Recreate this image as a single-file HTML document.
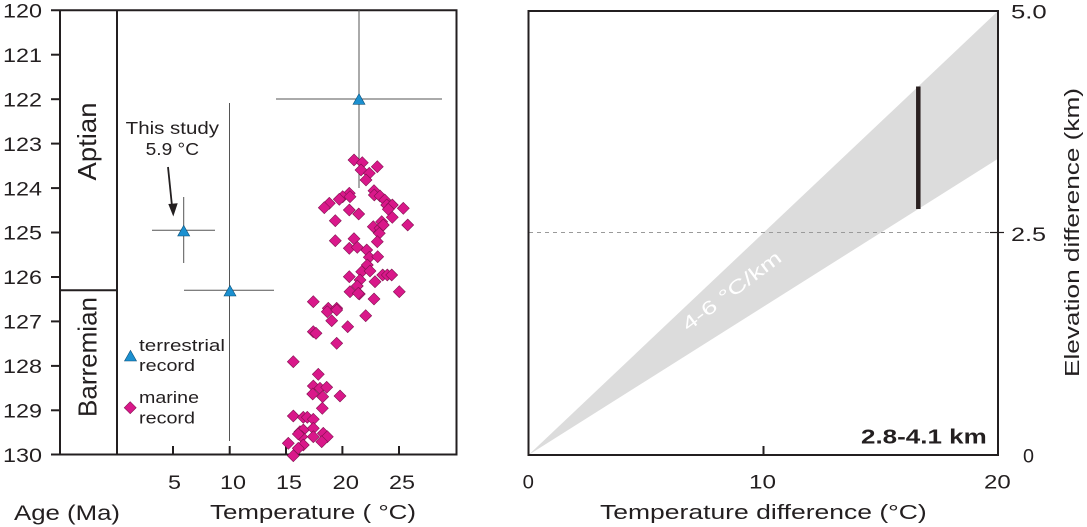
<!DOCTYPE html>
<html><head><meta charset="utf-8"><style>
html,body{margin:0;padding:0;background:#fff;}
svg{display:block;}
text{font-family:"Liberation Sans",Arial,sans-serif;fill:#231f20;}
</style></head><body>
<svg width="1087" height="527" viewBox="0 0 1087 527" xmlns="http://www.w3.org/2000/svg">
<defs>
<path id="d" d="M0,-6 L6,0 L0,6 L-6,0Z" fill="#d9188a" stroke="#80104f" stroke-width="0.6"/>
<path id="t" d="M0,-5.3 L6,5.3 L-6,5.3Z" fill="#1b90d0" stroke="#0b4f78" stroke-width="0.6"/>
</defs>

<!-- LEFT PANEL -->
<g stroke="#231f20" stroke-width="2" fill="none">
<line x1="51" y1="10.3" x2="457.5" y2="10.3"/>
<line x1="51" y1="454.5" x2="457.5" y2="454.5"/>
<line x1="60" y1="10" x2="60" y2="455"/>
<line x1="117" y1="10" x2="117" y2="455"/>
<line x1="456.5" y1="10" x2="456.5" y2="455"/>
<line x1="60" y1="290.3" x2="117" y2="290.3"/>
<line x1="51" y1="54.7" x2="60" y2="54.7"/>
<line x1="51" y1="99.2" x2="60" y2="99.2"/>
<line x1="51" y1="143.6" x2="60" y2="143.6"/>
<line x1="51" y1="188.1" x2="60" y2="188.1"/>
<line x1="51" y1="232.5" x2="60" y2="232.5"/>
<line x1="51" y1="277" x2="60" y2="277"/>
<line x1="51" y1="321.4" x2="60" y2="321.4"/>
<line x1="51" y1="365.9" x2="60" y2="365.9"/>
<line x1="51" y1="410.3" x2="60" y2="410.3"/>
<line x1="173" y1="446" x2="173" y2="454"/>
<line x1="229.7" y1="446" x2="229.7" y2="454"/>
<line x1="286" y1="446" x2="286" y2="454"/>
<line x1="342.4" y1="446" x2="342.4" y2="454"/>
<line x1="399" y1="446" x2="399" y2="454"/>
</g>

<g text-anchor="end" font-size="19.5">
<text x="42" y="17.5" textLength="39" lengthAdjust="spacingAndGlyphs">120</text>
<text x="42" y="62" textLength="39" lengthAdjust="spacingAndGlyphs">121</text>
<text x="42" y="106.4" textLength="39" lengthAdjust="spacingAndGlyphs">122</text>
<text x="42" y="150.8" textLength="39" lengthAdjust="spacingAndGlyphs">123</text>
<text x="42" y="195.3" textLength="39" lengthAdjust="spacingAndGlyphs">124</text>
<text x="42" y="239.7" textLength="39" lengthAdjust="spacingAndGlyphs">125</text>
<text x="42" y="284.2" textLength="39" lengthAdjust="spacingAndGlyphs">126</text>
<text x="42" y="328.6" textLength="39" lengthAdjust="spacingAndGlyphs">127</text>
<text x="42" y="373.1" textLength="39" lengthAdjust="spacingAndGlyphs">128</text>
<text x="42" y="417.5" textLength="39" lengthAdjust="spacingAndGlyphs">129</text>
<text x="42" y="461.8" textLength="39" lengthAdjust="spacingAndGlyphs">130</text>
</g>

<g font-size="19.5">
<text x="168" y="489" textLength="13" lengthAdjust="spacingAndGlyphs">5</text>
<text x="220" y="489" textLength="26" lengthAdjust="spacingAndGlyphs">10</text>
<text x="276" y="489" textLength="26" lengthAdjust="spacingAndGlyphs">15</text>
<text x="332.5" y="489" textLength="26.5" lengthAdjust="spacingAndGlyphs">20</text>
<text x="389" y="489" textLength="26" lengthAdjust="spacingAndGlyphs">25</text>
<text x="14" y="520" font-size="21" textLength="106" lengthAdjust="spacingAndGlyphs">Age (Ma)</text>
<text x="210" y="519" font-size="20" textLength="206" lengthAdjust="spacingAndGlyphs">Temperature ( °C)</text>
</g>

<!-- stage labels -->
<text transform="translate(96,141.5) rotate(-90)" text-anchor="middle" font-size="26" textLength="78" lengthAdjust="spacingAndGlyphs">Aptian</text>
<text transform="translate(96.5,357) rotate(-90)" text-anchor="middle" font-size="26" textLength="120" lengthAdjust="spacingAndGlyphs">Barremian</text>

<!-- error bars -->
<g stroke="#555" stroke-width="1" fill="none">
<line x1="152" y1="230.3" x2="215" y2="230.3"/>
<line x1="183.7" y1="197" x2="183.7" y2="263"/>
<line x1="184" y1="290.3" x2="274" y2="290.3"/>
<line x1="229.5" y1="103" x2="229.5" y2="441"/>
<line x1="276" y1="99" x2="442" y2="99"/>
<line x1="359" y1="10" x2="359" y2="188"/>
</g>

<!-- diamonds -->
<g>
<use href="#d" x="354" y="160"/><use href="#d" x="362.3" y="162.7"/><use href="#d" x="361" y="170"/><use href="#d" x="369.3" y="173.3"/><use href="#d" x="377.3" y="166.7"/><use href="#d" x="366" y="180"/>
<use href="#d" x="374" y="190.7"/><use href="#d" x="374.3" y="195"/><use href="#d" x="380" y="196"/><use href="#d" x="384.7" y="200"/><use href="#d" x="386.7" y="205"/><use href="#d" x="392.3" y="205"/>
<use href="#d" x="388.3" y="209.3"/><use href="#d" x="403.3" y="208.3"/><use href="#d" x="392.3" y="217.3"/><use href="#d" x="407.7" y="225"/><use href="#d" x="381.7" y="221.7"/><use href="#d" x="373.3" y="226.7"/>
<use href="#d" x="380" y="228.3"/><use href="#d" x="383.3" y="225"/><use href="#d" x="379.3" y="233.3"/><use href="#d" x="377.3" y="241.7"/><use href="#d" x="349.3" y="193.3"/><use href="#d" x="342.7" y="196.7"/>
<use href="#d" x="339.3" y="199.3"/><use href="#d" x="350" y="196.7"/><use href="#d" x="329.3" y="203.3"/><use href="#d" x="324.3" y="207.7"/><use href="#d" x="349.3" y="210"/><use href="#d" x="358.7" y="214"/>
<use href="#d" x="335.3" y="220.7"/><use href="#d" x="335.3" y="240.7"/><use href="#d" x="354" y="238.7"/><use href="#d" x="349.3" y="248.3"/><use href="#d" x="357.3" y="247.3"/><use href="#d" x="366.7" y="250"/>
<use href="#d" x="369.3" y="257.3"/><use href="#d" x="377.7" y="256.7"/><use href="#d" x="367.3" y="265"/><use href="#d" x="361.7" y="271.7"/><use href="#d" x="370" y="271"/><use href="#d" x="349.3" y="276.7"/>
<use href="#d" x="360" y="280"/><use href="#d" x="382.7" y="275"/><use href="#d" x="387.3" y="275"/><use href="#d" x="391.7" y="275"/><use href="#d" x="375" y="281.7"/><use href="#d" x="357.3" y="286"/>
<use href="#d" x="350" y="291.7"/><use href="#d" x="359.3" y="294"/><use href="#d" x="399.3" y="291.7"/><use href="#d" x="374" y="299"/><use href="#d" x="313.3" y="301.7"/><use href="#d" x="328.3" y="308.3"/>
<use href="#d" x="336.7" y="308.3"/><use href="#d" x="358.3" y="293.3"/><use href="#d" x="327.3" y="311.7"/><use href="#d" x="336.7" y="310"/><use href="#d" x="331.7" y="320.7"/><use href="#d" x="365.7" y="315.7"/>
<use href="#d" x="347.7" y="326.7"/><use href="#d" x="313.3" y="331.7"/><use href="#d" x="316" y="333.3"/><use href="#d" x="336.7" y="343.3"/><use href="#d" x="293.3" y="361.7"/><use href="#d" x="318.3" y="374.3"/>
<use href="#d" x="313.3" y="386"/><use href="#d" x="320" y="388.3"/><use href="#d" x="326.7" y="387.3"/><use href="#d" x="312.7" y="394"/><use href="#d" x="322.7" y="396.7"/><use href="#d" x="340" y="396"/>
<use href="#d" x="322.3" y="408.3"/><use href="#d" x="293.3" y="416"/><use href="#d" x="303.3" y="417.3"/><use href="#d" x="307.3" y="417.3"/><use href="#d" x="313.3" y="419.3"/><use href="#d" x="300" y="431.7"/>
<use href="#d" x="303.3" y="430"/><use href="#d" x="313.3" y="428.3"/><use href="#d" x="323.3" y="433.3"/><use href="#d" x="327.3" y="436.7"/><use href="#d" x="321.7" y="441.7"/><use href="#d" x="301.7" y="436.7"/>
<use href="#d" x="298.3" y="434"/><use href="#d" x="288.3" y="443.3"/><use href="#d" x="303.3" y="445"/><use href="#d" x="298.3" y="448.3"/><use href="#d" x="293.3" y="455.7"/><use href="#d" x="313.3" y="436.7"/>
</g>

<!-- triangles -->
<use href="#t" x="183.7" y="230.7"/>
<use href="#t" x="230" y="290.7"/>
<use href="#t" x="359" y="99"/>

<!-- annotation -->
<text x="125.7" y="134" font-size="17.5" textLength="93.3" lengthAdjust="spacingAndGlyphs">This study</text>
<text x="145.7" y="155" font-size="17.5" textLength="53.3" lengthAdjust="spacingAndGlyphs">5.9 °C</text>
<line x1="168" y1="167" x2="172" y2="206" stroke="#231f20" stroke-width="1.8"/>
<path d="M168.3,204 L177.7,203.3 L173.3,216.5Z" fill="#231f20"/>

<!-- legend -->
<use href="#t" x="130.5" y="355.7"/>
<use href="#d" x="130.2" y="407.7"/>
<g font-size="17">
<text x="139" y="351" textLength="86" lengthAdjust="spacingAndGlyphs">terrestrial</text>
<text x="139" y="371" textLength="56" lengthAdjust="spacingAndGlyphs">record</text>
<text x="139" y="403" textLength="60" lengthAdjust="spacingAndGlyphs">marine</text>
<text x="139" y="423.5" textLength="56" lengthAdjust="spacingAndGlyphs">record</text>
</g>

<!-- RIGHT PANEL -->
<polygon points="528.5,455 998,11 998,158.7" fill="#dcdcdc"/>
<line x1="529" y1="232.5" x2="992" y2="232.5" stroke="#9a9a9a" stroke-width="1" stroke-dasharray="4,4"/>
<line x1="990" y1="232.5" x2="1004" y2="232.5" stroke="#231f20" stroke-width="1.2"/>
<line x1="918.3" y1="86.5" x2="918.3" y2="209" stroke="#2a2020" stroke-width="4.5"/>
<g stroke="#231f20" stroke-width="2" fill="none">
<rect x="528.5" y="11" width="469.5" height="444"/>
<line x1="763.5" y1="446" x2="763.5" y2="455"/>
</g>
<text transform="translate(735.5,296) rotate(-37)" text-anchor="middle" font-size="19" style="fill:#fff" textLength="119" lengthAdjust="spacingAndGlyphs">4-6 °C/km</text>
<text x="861" y="443.3" font-size="20" font-weight="bold" textLength="125.7" lengthAdjust="spacingAndGlyphs">2.8-4.1 km</text>

<g font-size="19.5">
<text x="522.7" y="488.3" textLength="11.3" lengthAdjust="spacingAndGlyphs">0</text>
<text x="749" y="488.3" textLength="27" lengthAdjust="spacingAndGlyphs">10</text>
<text x="984" y="488.3" textLength="26.7" lengthAdjust="spacingAndGlyphs">20</text>
<text x="1011" y="18.3" textLength="35.7" lengthAdjust="spacingAndGlyphs">5.0</text>
<text x="1011" y="241" textLength="35" lengthAdjust="spacingAndGlyphs">2.5</text>
<text x="1023" y="462.7" textLength="11" lengthAdjust="spacingAndGlyphs">0</text>
<text x="600" y="519" font-size="20" textLength="326.7" lengthAdjust="spacingAndGlyphs">Temperature difference (°C)</text>
</g>
<text transform="translate(1079,232.5) rotate(-90)" text-anchor="middle" font-size="20.5" textLength="289" lengthAdjust="spacingAndGlyphs">Elevation difference (km)</text>
</svg>
</body></html>
